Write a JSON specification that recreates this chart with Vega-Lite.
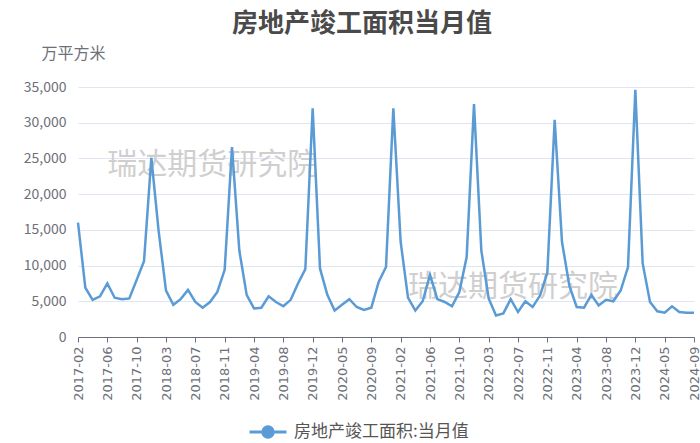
{
  "$schema": "https://vega.github.io/schema/vega-lite/v6.json",
  "autosize": {"type": "none"},
  "width": 616,
  "height": 250,
  "padding": {"left": 78, "top": 87, "right": 6, "bottom": 106},
  "background": "white",
  "title": {
    "text": "房地产竣工面积当月值",
    "font": "Noto Sans CJK SC",
    "fontSize": 26,
    "fontWeight": "bold",
    "color": "#4a4a4a",
    "anchor": "middle",
    "dx": -24,
    "offset": 8
  },
  "config": {
    "view": {"stroke": null},
    "font": "Noto Sans CJK SC"
  },
  "datasets": {
    "main": [
      {"month": "2017-02", "value": 16000, "series": "房地产竣工面积:当月值"},
      {"month": "2017-03", "value": 6900, "series": "房地产竣工面积:当月值"},
      {"month": "2017-04", "value": 5200, "series": "房地产竣工面积:当月值"},
      {"month": "2017-05", "value": 5700, "series": "房地产竣工面积:当月值"},
      {"month": "2017-06", "value": 7500, "series": "房地产竣工面积:当月值"},
      {"month": "2017-07", "value": 5500, "series": "房地产竣工面积:当月值"},
      {"month": "2017-08", "value": 5300, "series": "房地产竣工面积:当月值"},
      {"month": "2017-09", "value": 5400, "series": "房地产竣工面积:当月值"},
      {"month": "2017-10", "value": 8000, "series": "房地产竣工面积:当月值"},
      {"month": "2017-11", "value": 10600, "series": "房地产竣工面积:当月值"},
      {"month": "2017-12", "value": 25100, "series": "房地产竣工面积:当月值"},
      {"month": "2018-02", "value": 14800, "series": "房地产竣工面积:当月值"},
      {"month": "2018-03", "value": 6500, "series": "房地产竣工面积:当月值"},
      {"month": "2018-04", "value": 4500, "series": "房地产竣工面积:当月值"},
      {"month": "2018-05", "value": 5300, "series": "房地产竣工面积:当月值"},
      {"month": "2018-06", "value": 6600, "series": "房地产竣工面积:当月值"},
      {"month": "2018-07", "value": 4900, "series": "房地产竣工面积:当月值"},
      {"month": "2018-08", "value": 4100, "series": "房地产竣工面积:当月值"},
      {"month": "2018-09", "value": 4900, "series": "房地产竣工面积:当月值"},
      {"month": "2018-10", "value": 6300, "series": "房地产竣工面积:当月值"},
      {"month": "2018-11", "value": 9400, "series": "房地产竣工面积:当月值"},
      {"month": "2018-12", "value": 26600, "series": "房地产竣工面积:当月值"},
      {"month": "2019-02", "value": 12100, "series": "房地产竣工面积:当月值"},
      {"month": "2019-03", "value": 5900, "series": "房地产竣工面积:当月值"},
      {"month": "2019-04", "value": 4000, "series": "房地产竣工面积:当月值"},
      {"month": "2019-05", "value": 4100, "series": "房地产竣工面积:当月值"},
      {"month": "2019-06", "value": 5700, "series": "房地产竣工面积:当月值"},
      {"month": "2019-07", "value": 4900, "series": "房地产竣工面积:当月值"},
      {"month": "2019-08", "value": 4300, "series": "房地产竣工面积:当月值"},
      {"month": "2019-09", "value": 5200, "series": "房地产竣工面积:当月值"},
      {"month": "2019-10", "value": 7500, "series": "房地产竣工面积:当月值"},
      {"month": "2019-11", "value": 9500, "series": "房地产竣工面积:当月值"},
      {"month": "2019-12", "value": 32000, "series": "房地产竣工面积:当月值"},
      {"month": "2020-02", "value": 9600, "series": "房地产竣工面积:当月值"},
      {"month": "2020-03", "value": 5900, "series": "房地产竣工面积:当月值"},
      {"month": "2020-04", "value": 3700, "series": "房地产竣工面积:当月值"},
      {"month": "2020-05", "value": 4500, "series": "房地产竣工面积:当月值"},
      {"month": "2020-06", "value": 5300, "series": "房地产竣工面积:当月值"},
      {"month": "2020-07", "value": 4200, "series": "房地产竣工面积:当月值"},
      {"month": "2020-08", "value": 3800, "series": "房地产竣工面积:当月值"},
      {"month": "2020-09", "value": 4100, "series": "房地产竣工面积:当月值"},
      {"month": "2020-10", "value": 7700, "series": "房地产竣工面积:当月值"},
      {"month": "2020-11", "value": 9800, "series": "房地产竣工面积:当月值"},
      {"month": "2020-12", "value": 32000, "series": "房地产竣工面积:当月值"},
      {"month": "2021-02", "value": 13300, "series": "房地产竣工面积:当月值"},
      {"month": "2021-03", "value": 5500, "series": "房地产竣工面积:当月值"},
      {"month": "2021-04", "value": 3700, "series": "房地产竣工面积:当月值"},
      {"month": "2021-05", "value": 5000, "series": "房地产竣工面积:当月值"},
      {"month": "2021-06", "value": 8700, "series": "房地产竣工面积:当月值"},
      {"month": "2021-07", "value": 5300, "series": "房地产竣工面积:当月值"},
      {"month": "2021-08", "value": 4900, "series": "房地产竣工面积:当月值"},
      {"month": "2021-09", "value": 4300, "series": "房地产竣工面积:当月值"},
      {"month": "2021-10", "value": 6300, "series": "房地产竣工面积:当月值"},
      {"month": "2021-11", "value": 11200, "series": "房地产竣工面积:当月值"},
      {"month": "2021-12", "value": 32600, "series": "房地产竣工面积:当月值"},
      {"month": "2022-02", "value": 12100, "series": "房地产竣工面积:当月值"},
      {"month": "2022-03", "value": 5400, "series": "房地产竣工面积:当月值"},
      {"month": "2022-04", "value": 3000, "series": "房地产竣工面积:当月值"},
      {"month": "2022-05", "value": 3300, "series": "房地产竣工面积:当月值"},
      {"month": "2022-06", "value": 5300, "series": "房地产竣工面积:当月值"},
      {"month": "2022-07", "value": 3500, "series": "房地产竣工面积:当月值"},
      {"month": "2022-08", "value": 5000, "series": "房地产竣工面积:当月值"},
      {"month": "2022-09", "value": 4200, "series": "房地产竣工面积:当月值"},
      {"month": "2022-10", "value": 5800, "series": "房地产竣工面积:当月值"},
      {"month": "2022-11", "value": 9000, "series": "房地产竣工面积:当月值"},
      {"month": "2022-12", "value": 30400, "series": "房地产竣工面积:当月值"},
      {"month": "2023-02", "value": 13300, "series": "房地产竣工面积:当月值"},
      {"month": "2023-03", "value": 7200, "series": "房地产竣工面积:当月值"},
      {"month": "2023-04", "value": 4200, "series": "房地产竣工面积:当月值"},
      {"month": "2023-05", "value": 4100, "series": "房地产竣工面积:当月值"},
      {"month": "2023-06", "value": 5900, "series": "房地产竣工面积:当月值"},
      {"month": "2023-07", "value": 4400, "series": "房地产竣工面积:当月值"},
      {"month": "2023-08", "value": 5200, "series": "房地产竣工面积:当月值"},
      {"month": "2023-09", "value": 5000, "series": "房地产竣工面积:当月值"},
      {"month": "2023-10", "value": 6500, "series": "房地产竣工面积:当月值"},
      {"month": "2023-11", "value": 9800, "series": "房地产竣工面积:当月值"},
      {"month": "2023-12", "value": 34600, "series": "房地产竣工面积:当月值"},
      {"month": "2024-02", "value": 10300, "series": "房地产竣工面积:当月值"},
      {"month": "2024-03", "value": 4900, "series": "房地产竣工面积:当月值"},
      {"month": "2024-04", "value": 3600, "series": "房地产竣工面积:当月值"},
      {"month": "2024-05", "value": 3400, "series": "房地产竣工面积:当月值"},
      {"month": "2024-06", "value": 4300, "series": "房地产竣工面积:当月值"},
      {"month": "2024-07", "value": 3500, "series": "房地产竣工面积:当月值"},
      {"month": "2024-08", "value": 3400, "series": "房地产竣工面积:当月值"},
      {"month": "2024-09", "value": 3400, "series": "房地产竣工面积:当月值"}
    ],
    "watermark": [
      {"month": "2017-06", "value": 24100, "label": "瑞达期货研究院"},
      {"month": "2021-03", "value": 7000, "label": "瑞达期货研究院"}
    ]
  },
  "layer": [
    {
      "data": {"name": "watermark"},
      "mark": {"type": "text", "align": "left", "baseline": "middle", "fontSize": 30, "color": "#cfcfcf", "font": "Noto Sans CJK SC"},
      "encoding": {
        "x": {"field": "month", "type": "ordinal"},
        "y": {"field": "value", "type": "quantitative"},
        "text": {"field": "label"}
      }
    },
    {
      "data": {"name": "main"},
      "mark": {"type": "line", "strokeWidth": 2.5, "interpolate": "linear"},
      "encoding": {
        "x": {
          "field": "month",
          "type": "ordinal",
          "sort": null,
          "scale": {"type": "point", "padding": 0},
          "axis": {
            "title": null,
            "values": ["2017-02","2017-06","2017-10","2018-03","2018-07","2018-11","2019-04","2019-08","2019-12","2020-05","2020-09","2021-02","2021-06","2021-10","2022-03","2022-07","2022-11","2023-04","2023-08","2023-12","2024-05","2024-09"],
            "labelAngle": -90,
            "labelFontSize": 13,
            "labelColor": "#6e7079",
            "labelFont": "DejaVu Sans",
            "labelPadding": 4,
            "labelOverlap": false,
            "domainColor": "#6e7079",
            "tickColor": "#6e7079",
            "tickSize": 5,
            "grid": false
          }
        },
        "y": {
          "field": "value",
          "type": "quantitative",
          "scale": {"domain": [0, 35000], "nice": false},
          "axis": {
            "title": "万平方米",
            "titleAngle": 0,
            "titleAlign": "center",
            "titleBaseline": "bottom",
            "titleX": -5,
            "titleY": -26,
            "titleFontSize": 16,
            "titleFontWeight": "normal",
            "titleColor": "#6e7079",
            "values": [0, 5000, 10000, 15000, 20000, 25000, 30000, 35000],
            "tickCount": 8,
            "format": ",d",
            "labelOverlap": false,
            "labelFontSize": 14,
            "labelColor": "#6e7079",
            "labelPadding": 12,
            "domain": false,
            "ticks": false,
            "gridColor": "#e0e6f1",
            "gridWidth": 1
          }
        },
        "color": {
          "field": "series",
          "type": "nominal",
          "scale": {"range": ["#5a9bd5"]},
          "legend": {
            "title": null,
            "orient": "none",
            "legendX": 170,
            "legendY": 325,
            "labelFontSize": 17,
            "labelLimit": 0,
            "labelOffset": 6,
            "labelColor": "#555555",
            "symbolType": "M-1,0L-0.28,0M0.28,0L1,0M-0.28,0A0.28,0.28,0,1,1,0.28,0A0.28,0.28,0,1,1,-0.28,0Z",
            "symbolSize": 1369,
            "symbolStrokeWidth": 3,
            "encode": {"symbols": {"update": {"fill": {"value": "#5a9bd5"}, "stroke": {"value": "#5a9bd5"}}}}
          }
        }
      }
    }
  ]
}
